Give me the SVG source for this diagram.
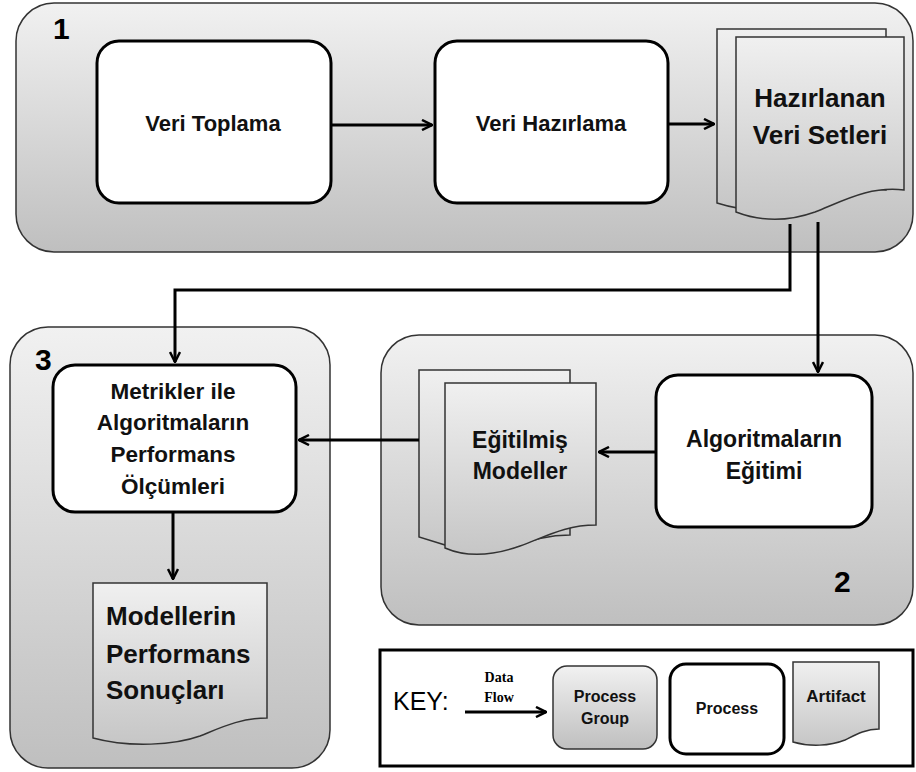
<svg xmlns="http://www.w3.org/2000/svg" width="916" height="772" viewBox="0 0 916 772">
<defs>
<linearGradient id="gg" x1="0" y1="0" x2="0" y2="1">
<stop offset="0" stop-color="#f1f1f1"/><stop offset="1" stop-color="#bfbfbf"/>
</linearGradient>
<linearGradient id="ga" x1="0" y1="0" x2="0" y2="1">
<stop offset="0" stop-color="#f0f0f0"/><stop offset="1" stop-color="#c6c6c6"/>
</linearGradient>
<marker id="ah" viewBox="0 0 12 12" refX="11" refY="6" markerWidth="12" markerHeight="12" markerUnits="userSpaceOnUse" orient="auto">
<path d="M1,1 L11,6 L1,11" fill="none" stroke="#000" stroke-width="2.5"/>
</marker>
<style>
.grp{fill:url(#gg);stroke:#333;stroke-width:1.5}
.proc{fill:#fff;stroke:#000;stroke-width:3}
.art{fill:url(#ga);stroke:#333;stroke-width:1.5}
.t{font-family:"Liberation Sans",Arial,sans-serif;font-weight:bold;fill:#111;text-anchor:middle}
.ts{font-family:"Liberation Sans",Arial,sans-serif;font-weight:bold;fill:#111;text-anchor:start}
.num{font-family:"Liberation Sans",Arial,sans-serif;font-weight:bold;font-size:30px;fill:#000}
.c{fill:none;stroke:#000;stroke-width:3;marker-end:url(#ah)}
</style>
</defs>

<g id="group1">
<rect class="grp" x="16" y="3" width="897" height="249" rx="38"/>
<text class="num" x="53" y="39">1</text>
</g>
<g id="group3">
<rect class="grp" x="10" y="327" width="320" height="441" rx="38"/>
<text class="num" x="35" y="370">3</text>
</g>
<g id="group2">
<rect class="grp" x="381" y="335" width="532" height="290" rx="38"/>
<text class="num" x="834" y="592">2</text>
</g>

<g id="veri-toplama">
<rect class="proc" x="97" y="41" width="234" height="162" rx="22"/>
<text class="t" x="213" y="131" font-size="22">Veri Toplama</text>
</g>
<g id="veri-hazirlama">
<rect class="proc" x="435" y="41" width="233" height="162" rx="22"/>
<text class="t" x="551" y="131" font-size="22">Veri Hazırlama</text>
</g>
<g id="hazirlanan-veri-setleri">
<path class="art" d="M717,29 H886 V190 C850,185 830,200 800,206 C775,212 745,212 717,203 Z"/>
<path class="art" d="M736,37 H904 V190 C870,186 845,200 815,212 C790,221 762,222 736,212 Z"/>
<text class="t" x="820" y="107" font-size="26">Hazırlanan</text>
<text class="t" x="820" y="144" font-size="26">Veri Setleri</text>
</g>
<g id="algoritmalarin-egitimi">
<rect class="proc" x="656" y="375" width="216" height="152" rx="22"/>
<text class="t" x="764" y="447" font-size="23">Algoritmaların</text>
<text class="t" x="764" y="479" font-size="23">Eğitimi</text>
</g>
<g id="egitilmis-modeller">
<path class="art" d="M419,370 H570 V535 C540,535 520,545 500,550 C480,555 462,555 445,545 L419,537 Z"/>
<path class="art" d="M445,383 H596 V525 C565,525 545,537 520,546 C495,555 468,558 445,548 Z"/>
<text class="t" x="520" y="448" font-size="23">Eğitilmiş</text>
<text class="t" x="520" y="479" font-size="23">Modeller</text>
</g>
<g id="metrikler">
<rect class="proc" x="53" y="365" width="243" height="147" rx="22"/>
<text class="t" x="173" y="399" font-size="22.5">Metrikler ile</text>
<text class="t" x="173" y="430" font-size="22.5">Algoritmaların</text>
<text class="t" x="173" y="462" font-size="22.5">Performans</text>
<text class="t" x="173" y="494" font-size="22.5">Ölçümleri</text>
</g>
<g id="modellerin-performans-sonuclari">
<path class="art" d="M93,583 H267 V718 C240,718 220,728 200,736 C175,745 130,748 93,738 Z"/>
<text class="ts" x="106" y="625" font-size="26">Modellerin</text>
<text class="ts" x="106" y="663" font-size="26">Performans</text>
<text class="ts" x="106" y="699" font-size="26">Sonuçları</text>
</g>

<g id="connectors">
<path class="c" d="M790,224 V290 H175 V362"/>
<path class="c" d="M818,222 V372"/>
<path class="c" d="M331,125 H432"/>
<path class="c" d="M668,124 H714"/>
<path class="c" d="M656,452 H599"/>
<path class="c" d="M419,440 H299"/>
<path class="c" d="M173,512 V579"/>
</g>

<g id="key">
<rect x="380" y="650" width="533" height="116" fill="#fff" stroke="#000" stroke-width="3"/>
<text x="393" y="710" font-family="Liberation Sans,Arial,sans-serif" font-size="25" fill="#000">KEY:</text>
<text x="499" y="682" font-family="Liberation Serif,Times New Roman,serif" font-weight="bold" font-size="14" text-anchor="middle">Data</text>
<text x="499" y="702" font-family="Liberation Serif,Times New Roman,serif" font-weight="bold" font-size="14" text-anchor="middle">Flow</text>
<path class="c" d="M465,712 H546"/>
<rect class="grp" x="553" y="666" width="104" height="83" rx="14"/>
<text class="t" x="605" y="702" font-size="16">Process</text>
<text class="t" x="605" y="724" font-size="16">Group</text>
<rect class="proc" x="670" y="664" width="114" height="90" rx="16"/>
<text class="t" x="727" y="714" font-size="16">Process</text>
<path class="art" d="M793,662 H879 V729 C865,729 855,735 845,740 C830,746 810,747 793,742 Z"/>
<text class="t" x="836" y="702" font-size="17">Artifact</text>
</g>
</svg>
